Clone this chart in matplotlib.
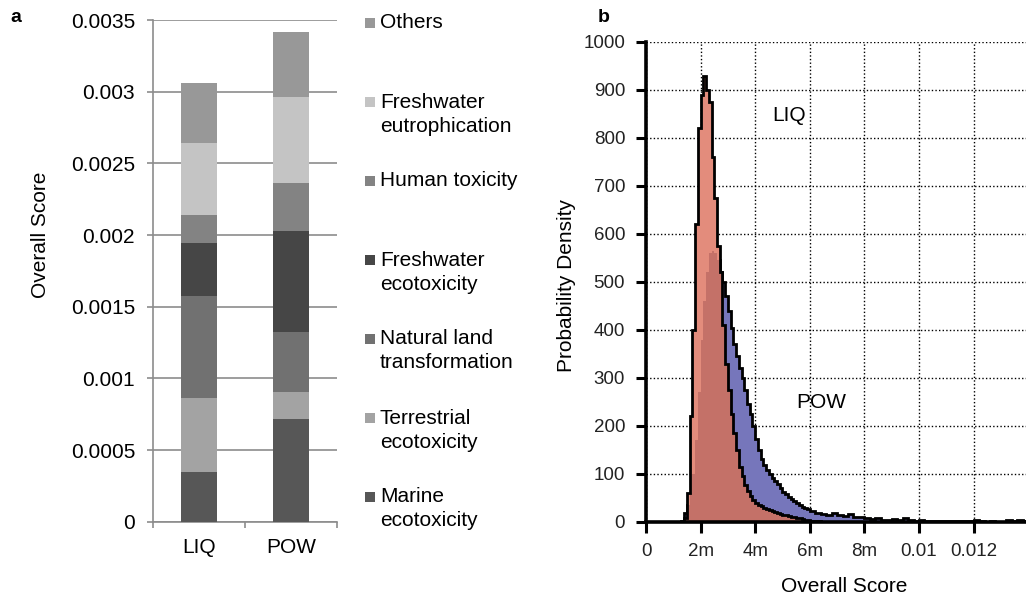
import numpy as np
import matplotlib
matplotlib.use('Agg')
import matplotlib.pyplot as plt
from matplotlib.patches import Rectangle

plt.rcParams['font.family'] = ['Liberation Sans', 'DejaVu Sans']

# ---- panel a: stacked impact contributions ----
scenarios = ['LIQ', 'POW']
categories = ['Marine\necotoxicity', 'Terrestrial\necotoxicity', 'Natural land\ntransformation',
              'Freshwater\necotoxicity', 'Human toxicity', 'Freshwater\neutrophication', 'Others']
marine = [0.000350, 0.000717]
terrestrial = [0.000510, 0.000191]
natural_land = [0.000717, 0.000418]
fw_ecotox = [0.000370, 0.000700]
human_tox = [0.000193, 0.000338]
fw_eutro = [0.000500, 0.000597]
others = [0.000423, 0.000457]
cat_colors = ['#575757', '#a3a3a3', '#717171', '#464646', '#838383', '#c4c4c4', '#989898']
score_ticks = [0, 0.0005, 0.001, 0.0015, 0.002, 0.0025, 0.003, 0.0035]
score_labels = ['0', '0.0005', '0.001', '0.0015', '0.002', '0.0025', '0.003', '0.0035']

# ---- panel b: Monte Carlo score histograms ----
# fine bins 1.3m..6.0m (0.1m wide), tail bins 6.0m..14.0m (0.2m wide)
liq_fine = [2, 8, 60, 220, 400, 620, 820, 890, 930, 900,
            875, 760, 675, 575, 520, 410, 330, 275, 225, 185,
            150, 115, 95, 78, 64, 54, 46, 40, 36, 33,
            30, 28, 25, 23, 21, 19, 17, 15, 14, 12,
            11, 10, 9, 8, 6, 5, 4]
liq_tail = [3, 2, 1, 1, 0, 0, 0, 0, 0, 0,
            0, 0, 0, 0, 0, 0, 0, 0, 0, 0,
            0, 0, 0, 0, 0, 0, 0, 0, 0, 0,
            0, 0, 0, 0, 0, 0, 0, 0, 0, 0]
pow_fine = [0, 18, 35, 60, 100, 170, 270, 380, 460, 520,
            560, 565, 560, 545, 520, 500, 470, 440, 405, 370,
            345, 320, 300, 275, 245, 225, 200, 172, 150, 132,
            118, 108, 100, 92, 85, 79, 70, 62, 58, 52,
            47, 43, 40, 36, 32, 29, 27]
pow_tail = [22, 18, 16, 15, 18, 14, 12, 16, 10, 11,
            8, 7, 8, 5, 5, 6, 4, 8, 4, 3,
            4, 3, 3, 2, 3, 2, 2, 3, 2, 2,
            4, 2, 1, 2, 1, 1, 4, 3, 4, 2]
x_ticks = [0, 0.002, 0.004, 0.006, 0.008, 0.010, 0.012]
x_tick_labels = ['0', '2m', '4m', '6m', '8m', '0.01', '0.012']
y_ticks = [0, 100, 200, 300, 400, 500, 600, 700, 800, 900, 1000]

W, H = 1026, 599
fig = plt.figure(figsize=(W / 100, H / 100), dpi=100)

def fx(px):
  return px / W

def fy(py):
  return 1 - py / H

# ---------------- panel a ----------------
ax = fig.add_axes([fx(153), fy(521.7), fx(337 - 153), (521.7 - 20) / H])
gray = '#8c8c8c'
x = np.arange(len(scenarios))
bottom = np.zeros(len(scenarios))
series = [marine, terrestrial, natural_land, fw_ecotox, human_tox, fw_eutro, others]
for vals, c in zip(series, cat_colors):
  ax.bar(x, vals, width=0.39, bottom=bottom, color=c, zorder=3)
  bottom += np.array(vals)
ax.set_xlim(-0.5, 1.5)
ax.set_ylim(0, 0.0035)
ax.set_yticks(score_ticks)
ax.set_yticklabels(score_labels)
ax.set_xticks(x)
ax.set_xticklabels(scenarios)
ax.set_xticks([-0.5, 0.5, 1.5], minor=True)
ax.tick_params(axis='y', length=4.3, width=1.2, color=gray, pad=8.6, labelsize=15)
ax.tick_params(axis='x', which='major', length=0, pad=12, labelsize=15)
ax.tick_params(axis='x', which='minor', length=4.3, width=1.2, color=gray)
ax.yaxis.grid(True, color=gray, lw=1.2)
ax.set_axisbelow(True)
for s in ['top', 'right']:
  ax.spines[s].set_visible(False)
for s in ['left', 'bottom']:
  ax.spines[s].set_color(gray)
  ax.spines[s].set_linewidth(1.2)

fig.text(fx(41), fy(235), 'Overall Score', rotation=90, ha='center', va='center', fontsize=15)
fig.text(fx(16), fy(18), 'a', ha='center', va='center', fontsize=14, fontweight='bold')

# legend, top entry first
for i, (name, c) in enumerate(zip(categories[::-1], cat_colors[::-1])):
  y0 = 23 + 79 * i
  fig.add_artist(Rectangle((fx(365), fy(y0 + 5)), 10 / W, 10 / H, transform=fig.transFigure,
                           facecolor=c, edgecolor='none'))
  for j, line in enumerate(name.split('\n')):
    fig.text(fx(380), fy(y0 + 24 * j), line, ha='left', va='center', fontsize=15)

# ---------------- panel b ----------------
bx = fig.add_axes([fx(646), fy(522), fx(1026 - 646), (522 - 42) / H])
edges = np.round(np.concatenate([np.arange(13, 60) * 0.1, np.arange(30, 71) * 0.2]), 2) * 1e-3
liq = np.array(liq_fine + liq_tail, dtype=float)
pw = np.array(pow_fine + pow_tail, dtype=float)

bx.stairs(pw, edges, fill=True, color='#7676bb', zorder=2)
bx.stairs(pw, edges, color='black', lw=2.0, zorder=2.1)
bx.stairs(liq, edges, fill=True, color='#e38c7c', zorder=3)
bx.stairs(np.minimum(liq, pw), edges, fill=True, color='#c47168', zorder=3.1)
bx.stairs(liq, edges, color='black', lw=2.0, zorder=3.2)

bx.set_xlim(0, 0.01392)
bx.set_ylim(0, 1000)
bx.set_xticks(x_ticks)
bx.set_xticklabels(x_tick_labels)
bx.set_yticks(y_ticks)
bx.grid(True, color='black', lw=1.0, linestyle=(0, (1, 1.6)))
bx.set_axisbelow(True)
for s in ['top', 'right']:
  bx.spines[s].set_visible(False)
for s in ['left', 'bottom']:
  bx.spines[s].set_linewidth(2.6)
  bx.spines[s].set_zorder(4)
bx.tick_params(axis='y', length=7, width=2.2, pad=8, labelsize=13.5, labelcolor='#222222')
bx.tick_params(axis='x', length=8, width=2.2, pad=7, labelsize=13.5, labelcolor='#222222')

bx.text(5.24e-3, 846, 'LIQ', ha='center', va='center', fontsize=15, zorder=5)
bx.text(6.41e-3, 248, 'POW', ha='center', va='center', fontsize=15, zorder=5)

fig.text(fx(566), fy(286), 'Probability Density', rotation=90, ha='center', va='center', fontsize=15)
fig.text(fx(844), fy(586), 'Overall Score', ha='center', va='center', fontsize=15)
fig.text(fx(604), fy(17), 'b', ha='center', va='center', fontsize=14, fontweight='bold')

fig.savefig('out.png', dpi=100)
